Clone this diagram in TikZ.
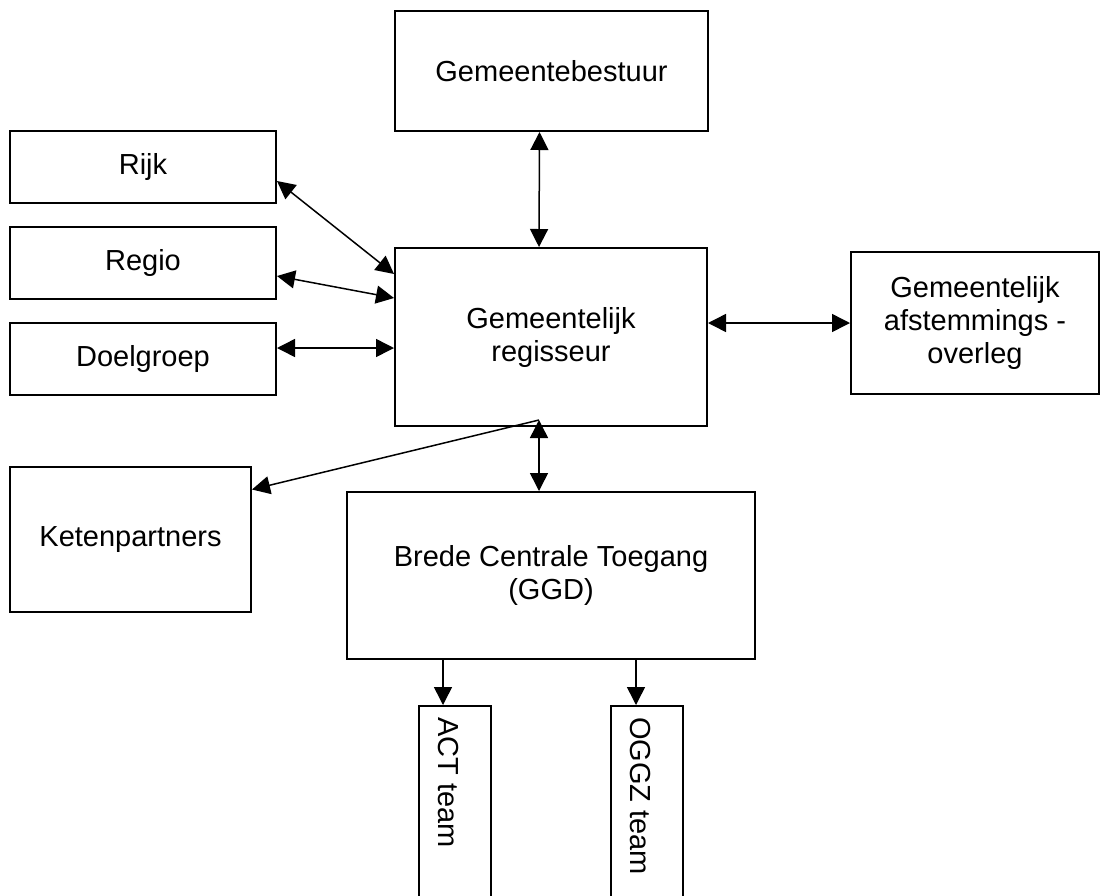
\documentclass[tikz,border=0pt]{standalone}
\usepackage{fontspec}
\setmainfont{Liberation Sans}
\usetikzlibrary{arrows.meta}
\tikzset{
	box/.style={draw, line width=2pt, rectangle, inner sep=0pt, anchor=north west, align=center, font=\fontsize{29}{33}\selectfont},
	both/.style={line width=1.5pt, {Triangle[length=18pt,width=18pt]}-{Triangle[length=18pt,width=18pt]}},
	down/.style={line width=1.5pt, -{Triangle[length=18pt,width=18pt]}}
}

\begin{document}
\begin{tikzpicture}[x=1pt, y=-1pt]
		%%%%% START %%%%%
		\path[use as bounding box, clip] (0,0) rectangle (1108,895);
		
		\node[box, minimum width=313, minimum height=120] (bestuur) at (394,10) {Gemeentebestuur};
		\node[box, minimum width=312, minimum height=178] (regisseur) at (394,247) {Gemeentelijk\\regisseur};
		\node[box, minimum width=248, minimum height=142] (overleg) at (850,251) {Gemeentelijk\\afstemmings -\\overleg};
		
		\node[box, minimum width=266, minimum height=72] (rijk) at (9,130) {Rijk};
		\node[box, minimum width=266, minimum height=72] (regio) at (9,226) {Regio};
		\node[box, minimum width=266, minimum height=72] (doel) at (9,322) {Doelgroep};
		\node[box, minimum width=241, minimum height=145] (keten) at (9,466) {Ketenpartners};
		
		\node[box, minimum width=408, minimum height=167] (bct) at (346,491) {Brede Centrale Toegang\\(GGD)};
		
		\node[box, minimum width=72, minimum height=230] (act) at (418,705) {};
		\node[box, minimum width=72, minimum height=230] (oggz) at (610,705) {};
		\node[rotate=-90, anchor=west, inner sep=0pt, font=\fontsize{29}{33}\selectfont] (acttext) at (448,717) {ACT team};
		\node[rotate=-90, anchor=west, inner sep=0pt, font=\fontsize{29}{33}\selectfont] (oggztext) at (640,717) {OGGZ team};
		
		\draw[both] ([xshift=-12]bestuur.south) -- ([xshift=-12]regisseur.north);
		\draw[both] ([yshift=-14]rijk.east) -- ([yshift=63]regisseur.west);
		\draw[both] ([yshift=-13]regio.east) -- ([yshift=39]regisseur.west);
		\draw[both] ([yshift=11]doel.east) -- ([yshift=-11]regisseur.west);
		\draw[both] ([yshift=14]regisseur.east) -- (overleg.west);
		
		\coordinate (hub) at ([xshift=-12,yshift=7]regisseur.south);
		\draw[both] (hub) -- ([xshift=-12]bct.north);
		\draw[down] (hub) -- ([yshift=50]keten.east);
		
		\draw[down] ([xshift=-12]act.north |- bct.south) -- ([xshift=-12]act.north);
		\draw[down] ([xshift=-11]oggz.north |- bct.south) -- ([xshift=-11]oggz.north);
		%%%%% END %%%%%
	\end{tikzpicture}
\end{document}
